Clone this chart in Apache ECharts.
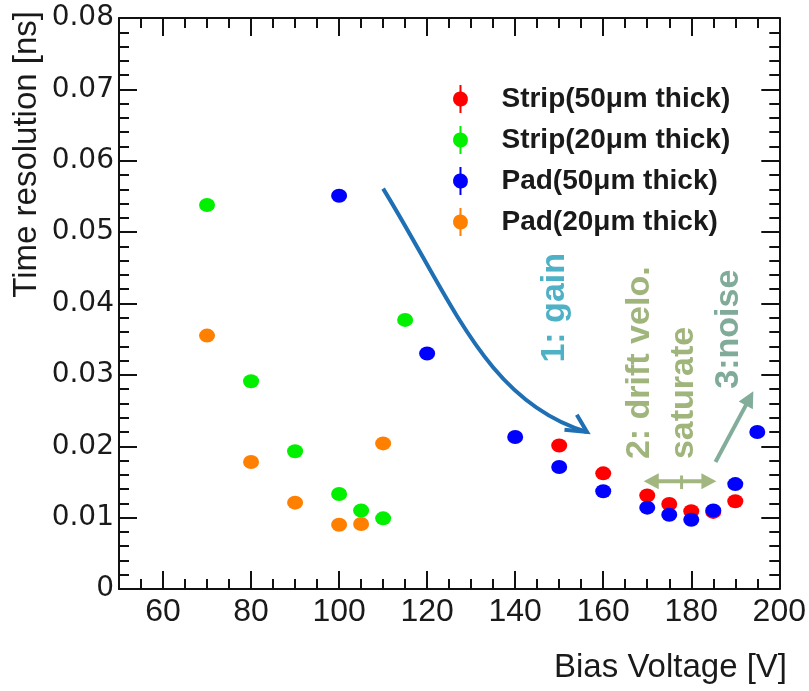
<!DOCTYPE html>
<html>
<head>
<meta charset="utf-8">
<script src="https://cdn.jsdelivr.net/npm/echarts@6/dist/echarts.min.js"></script>
<style>
  html, body { margin: 0; padding: 0; background: #fff; }
  #chart { width: 809px; height: 691px; }
</style>
</head>
<body>
<div id="chart"></div>
<script>
// Bias voltage [V] and time resolution [ns] per sensor type
const voltStrip50 = [150, 160, 170, 175, 180, 185, 190];
const resStrip50  = [0.0201, 0.0162, 0.0131, 0.0119, 0.0109, 0.0108, 0.0123];

const voltStrip20 = [70, 80, 90, 100, 105, 110, 115];
const resStrip20  = [0.0538, 0.0291, 0.0193, 0.0133, 0.0110, 0.0099, 0.0377];

const voltPad50 = [100, 120, 140, 150, 160, 170, 175, 180, 185, 190, 195];
const resPad50  = [0.0551, 0.0330, 0.0213, 0.0171, 0.0137, 0.0114, 0.0104, 0.0097, 0.0110, 0.0147, 0.0220];

const voltPad20 = [70, 80, 90, 100, 105, 110];
const resPad20  = [0.0355, 0.0178, 0.0121, 0.0090, 0.0091, 0.0204];

const seriesNames = ['Strip(50μm thick)', 'Strip(20μm thick)', 'Pad(50μm thick)', 'Pad(20μm thick)'];
const seriesColors = ['#ff0000', '#00f000', '#0000ff', '#ff8000'];

// Axis ticks
const xMajorTicks = [60, 80, 100, 120, 140, 160, 180, 200];
const xMinorTicks = [55, 60, 65, 70, 75, 80, 85, 90, 95, 100, 105, 110, 115, 120, 125, 130, 135, 140, 145, 150, 155, 160, 165, 170, 175, 180, 185, 190, 195, 200];
const yMin = 0, yMax = 0.08, yStep = 0.01;
const xMin = 50, xMax = 200;

const zip = (xs, ys) => xs.map((x, i) => [x, ys[i]]);

const chart = echarts.init(document.getElementById('chart'), null, { renderer: 'canvas' });

// marker with a vertical error bar, used in the legend
const legendIcon = 'path://M7,0 H9 V6.57 A7.5,7.5 0 0 1 9,21.43 V28 H7 V21.43 A7.5,7.5 0 0 1 7,6.57 Z';

const frameLine = { show: true, lineStyle: { color: '#111', width: 2 } };

function xAxisDef(position, ticks, len, labels, line) {
  return {
    type: 'value', gridIndex: 0, position: position, min: xMin, max: xMax,
    axisLine: line ? frameLine : { show: false },
    axisTick: { show: true, inside: true, length: len, customValues: ticks, lineStyle: { color: '#111', width: 2 } },
    axisLabel: labels ? {
      show: true, customValues: xMajorTicks, margin: 7,
      fontFamily: 'Liberation Sans, Arial, sans-serif', fontSize: 32, color: '#1a1a1a'
    } : { show: false },
    splitLine: { show: false }
  };
}

function yAxisDef(position, labels) {
  return {
    type: 'value', gridIndex: 0, position: position, min: yMin, max: yMax, interval: yStep,
    axisLine: frameLine,
    axisTick: { show: true, inside: true, length: 18, lineStyle: { color: '#111', width: 2 } },
    minorTick: { show: true, splitNumber: 5, length: 10, lineStyle: { color: '#111', width: 2 } },
    axisLabel: labels ? {
      show: true, margin: 5,
      fontFamily: 'DejaVu Sans, sans-serif', fontSize: 28, color: '#1a1a1a',
      formatter: v => (v === 0 ? '0' : v.toFixed(2))
    } : { show: false },
    splitLine: { show: false },
    minorSplitLine: { show: false }
  };
}

const option = {
  backgroundColor: '#ffffff',
  animation: false,
  grid: { left: 119, right: 28, top: 18, bottom: 102, containLabel: false },
  xAxis: [
    xAxisDef('bottom', xMajorTicks, 18, true, true),
    xAxisDef('bottom', xMinorTicks, 10, false, false),
    xAxisDef('top', xMajorTicks, 18, false, true),
    xAxisDef('top', xMinorTicks, 10, false, false)
  ],
  yAxis: [yAxisDef('left', true), yAxisDef('right', false)],
  legend: {
    orient: 'vertical', left: 448, top: 80, itemGap: 13,
    itemWidth: 16, itemHeight: 28,
    data: seriesNames.map(n => ({ name: n, icon: legendIcon })),
    textStyle: {
      fontFamily: 'Liberation Sans, Arial, sans-serif', fontWeight: 'bold',
      fontSize: 28, color: '#1a1a1a', padding: [0, 0, 0, 28]
    },
    selectedMode: false
  },
  series: [
    [voltStrip50, resStrip50], [voltStrip20, resStrip20],
    [voltPad50, resPad50], [voltPad20, resPad20]
  ].map((d, i) => ({
    name: seriesNames[i], type: 'scatter', xAxisIndex: 0, yAxisIndex: 0,
    data: zip(d[0], d[1]), symbol: 'circle', symbolSize: [16, 14],
    itemStyle: { color: seriesColors[i], opacity: 1 }
  }))
};

chart.setOption(option);

// Annotations, anchored in data coordinates
const toPx = p => chart.convertToPixel({ seriesIndex: 0 }, p);

function arrowHead(tip, from, len, half, color) {
  const dx = tip[0] - from[0], dy = tip[1] - from[1];
  const d = Math.hypot(dx, dy), ux = dx / d, uy = dy / d;
  const bx = tip[0] - ux * len, by = tip[1] - uy * len;
  return {
    type: 'polygon', silent: true,
    shape: { points: [tip, [bx - uy * half, by + ux * half], [bx + uy * half, by - ux * half]] },
    style: { fill: color }
  };
}

const gainArrow = { p0: [110.0, 0.0561], c1: [125.9, 0.0401], c2: [133.6, 0.0262], p3: [156.3, 0.0220],
                    armA: [154.0, 0.0244], armB: [151.2, 0.0223] };
const driftArrow = { left: [169.2, 0.0151], right: [185.7, 0.0151], mid: 177.8, tickTop: 0.0159, tickBot: 0.0140 };
const noiseArrow = { from: [185.5, 0.0178], to: [194.1, 0.0277] };

const g = [];
{
  const p0 = toPx(gainArrow.p0), c1 = toPx(gainArrow.c1), c2 = toPx(gainArrow.c2), p3 = toPx(gainArrow.p3);
  const gainBlue = '#1f6fb4';
  g.push({
    type: 'bezierCurve', silent: true,
    shape: { x1: p0[0], y1: p0[1], cpx1: c1[0], cpy1: c1[1], cpx2: c2[0], cpy2: c2[1], x2: p3[0], y2: p3[1] },
    style: { stroke: gainBlue, lineWidth: 4, fill: null }
  });
  g.push({
    type: 'polyline', silent: true,
    shape: { points: [toPx(gainArrow.armA), p3, toPx(gainArrow.armB)] },
    style: { stroke: gainBlue, lineWidth: 4, fill: null, lineJoin: 'miter' }
  });
}
{
  const olive = '#a2b77f';
  const l = toPx(driftArrow.left), r = toPx(driftArrow.right);
  g.push({ type: 'line', silent: true, shape: { x1: l[0] + 8, y1: l[1], x2: r[0] - 8, y2: r[1] }, style: { stroke: olive, lineWidth: 4 } });
  g.push(arrowHead(l, r, 15, 8, olive));
  g.push(arrowHead(r, l, 15, 8, olive));
  const t = toPx([driftArrow.mid, driftArrow.tickTop]), b = toPx([driftArrow.mid, driftArrow.tickBot]);
  g.push({ type: 'line', silent: true, shape: { x1: t[0], y1: t[1], x2: b[0], y2: b[1] }, style: { stroke: olive, lineWidth: 3 } });
}
{
  const teal = '#83ad9b';
  const f = toPx(noiseArrow.from), t = toPx(noiseArrow.to);
  const d = Math.hypot(t[0] - f[0], t[1] - f[1]);
  const e = [t[0] - (t[0] - f[0]) / d * 10, t[1] - (t[1] - f[1]) / d * 10];
  g.push({ type: 'line', silent: true, shape: { x1: f[0], y1: f[1], x2: e[0], y2: e[1] }, style: { stroke: teal, lineWidth: 4 } });
  g.push(arrowHead(t, f, 16, 8, teal));
}

const noteFont = { fontFamily: 'Liberation Sans, Arial, sans-serif', fontWeight: 'bold', fontSize: 34 };
function vText(text, at, color, align, extra) {
  const p = toPx(at);
  return {
    type: 'text', silent: true, x: p[0], y: p[1], rotation: Math.PI / 2,
    style: Object.assign({ text: text, fill: color, align: align, verticalAlign: 'middle' }, noteFont, extra || {})
  };
}
g.push(vText('1: gain', [149.0, 0.0394], '#4eb1c6', 'center'));
g.push(vText('2: drift velo.\nsaturate', [173.3, 0.0182], '#9fb57c', 'left', { lineHeight: 44 }));
g.push(vText('3:noise', [188.4, 0.0364], '#80ab99', 'center'));

// axis titles, right-aligned at the axis ends
g.push({
  type: 'text', silent: true, x: 27, y: 11, rotation: Math.PI / 2,
  style: { text: 'Time resolution [ns]', fill: '#1a1a1a', align: 'right', verticalAlign: 'middle',
           fontFamily: 'Liberation Sans, Arial, sans-serif', fontSize: 33 }
});
g.push({
  type: 'text', silent: true, x: 787, y: 668,
  style: { text: 'Bias Voltage [V]', fill: '#1a1a1a', align: 'right', verticalAlign: 'middle',
           fontFamily: 'Liberation Sans, Arial, sans-serif', fontSize: 33 }
});

chart.setOption({ graphic: { elements: g } });
</script>
</body>
</html>
